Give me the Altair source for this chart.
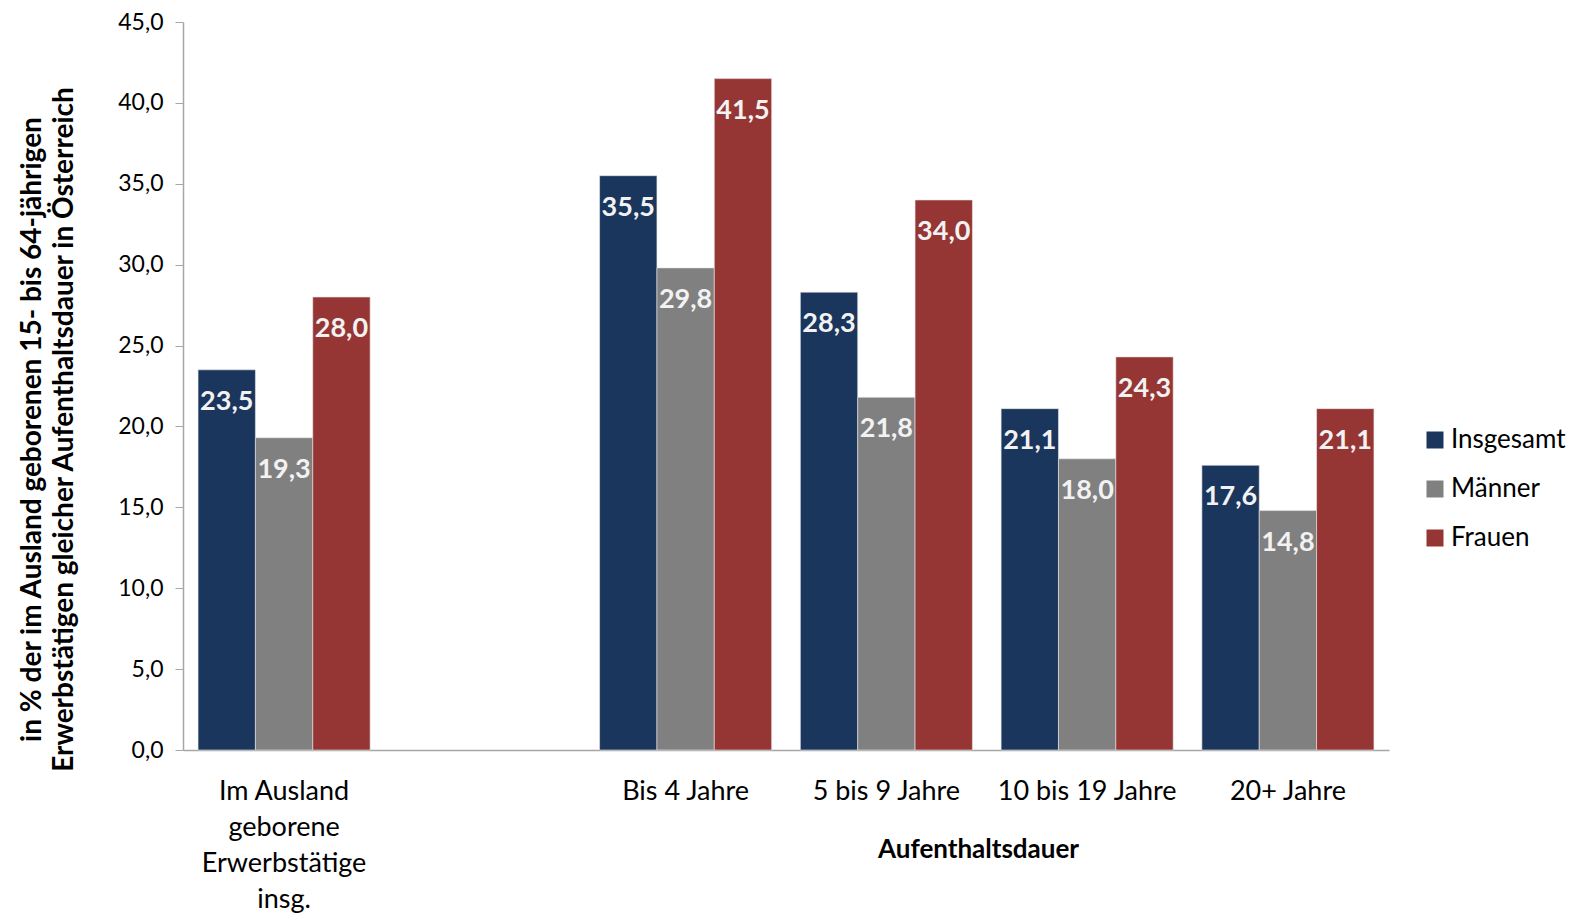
import altair as alt
import pandas as pd

categories = ["Im Ausland geborene Erwerbstätige insg.", " ", "Bis 4 Jahre", "5 bis 9 Jahre", "10 bis 19 Jahre", "20+ Jahre"]
data_categories = ["Im Ausland geborene Erwerbstätige insg.", "Bis 4 Jahre", "5 bis 9 Jahre", "10 bis 19 Jahre", "20+ Jahre"]
series = ["Insgesamt", "Männer", "Frauen"]
insgesamt = [23.5, 35.5, 28.3, 21.1, 17.6]
maenner = [19.3, 29.8, 21.8, 18.0, 14.8]
frauen = [28.0, 41.5, 34.0, 24.3, 21.1]
colors = ["#1B365D", "#808080", "#963634"]

rows = []
for s, vals in zip(series, [insgesamt, maenner, frauen]):
    for c, v in zip(data_categories, vals):
        rows.append({"Kategorie": c, "Gruppe": s, "Wert": v})
df = pd.DataFrame(rows)

FONT = "Lato"

x = alt.X(
    "Kategorie:N",
    scale=alt.Scale(domain=categories, paddingInner=0.143, paddingOuter=0.075),
    axis=alt.Axis(
        title="Aufenthaltsdauer",
        titleFont=FONT, titleFontSize=26, titleFontWeight="bold", titleColor="#000000",
        titleX=795, titleY=99, titleAlign="center", titleBaseline="middle",
        labelFont=FONT, labelFontSize=27, labelColor="#000000", labelAngle=0,
        labelPadding=28, labelLineHeight=36, labelBaseline="top",
        labelExpr="datum.value == 'Im Ausland geborene Erwerbstätige insg.' ? ['Im Ausland', 'geborene', 'Erwerbstätige', 'insg.'] : datum.value",
        ticks=False, domainColor="#A6A6A6", domainWidth=1.5,
    ),
)
y = alt.Y(
    "Wert:Q",
    scale=alt.Scale(domain=[0, 45], nice=False),
    axis=alt.Axis(
        title=["in % der im Ausland geborenen 15- bis 64-jährigen", "Erwerbstätigen gleicher Aufenthaltsdauer in Österreich"],
        titleFont=FONT, titleFontSize=28, titleFontWeight="bold", titleColor="#000000",
        titleLineHeight=32, titleX=-151, titleY=407, titleAlign="center", titleBaseline="middle",
        values=[0, 5, 10, 15, 20, 25, 30, 35, 40, 45],
        labelExpr="replace(format(datum.value, '.1f'), '.', ',')",
        labelFont=FONT, labelFontSize=23, labelColor="#000000", labelPadding=12,
        tickSize=8, tickColor="#A6A6A6", domainColor="#A6A6A6", domainWidth=1.5,
        grid=False,
    ),
)

base = alt.Chart(df).encode(
    x=x,
    xOffset=alt.XOffset("Gruppe:N", sort=series, scale=alt.Scale(domain=series, paddingInner=0, paddingOuter=0)),
    y=y,
)

bars = base.mark_bar(stroke="#E8E8E8", strokeWidth=0.6).encode(
    color=alt.Color(
        "Gruppe:N",
        sort=series,
        scale=alt.Scale(domain=series, range=colors),
        legend=alt.Legend(
            title=None, orient="none", legendX=1239, legendY=405,
            symbolType="square", symbolSize=289, symbolStrokeWidth=0,
            labelFont=FONT, labelFontSize=26, labelColor="#000000",
            labelOffset=3, rowPadding=23, padding=0,
        ),
    )
)

labels = base.mark_text(
    font=FONT, fontSize=27, fontWeight="bold", color="#F2F2F2",
    baseline="middle", align="center", dy=32,
).encode(
    text=alt.Text("label:N"),
).transform_calculate(label="replace(format(datum.Wert, '.1f'), '.', ',')")

chart = (bars + labels).properties(
    width=1206, height=728,
    autosize=alt.AutoSizeParams(type="none"),
    padding={"left": 183, "top": 22, "right": 192, "bottom": 163},
    background="#FFFFFF",
).configure_view(strokeWidth=0)

chart.save("out.html", embed_options={"renderer": "svg", "actions": False})
